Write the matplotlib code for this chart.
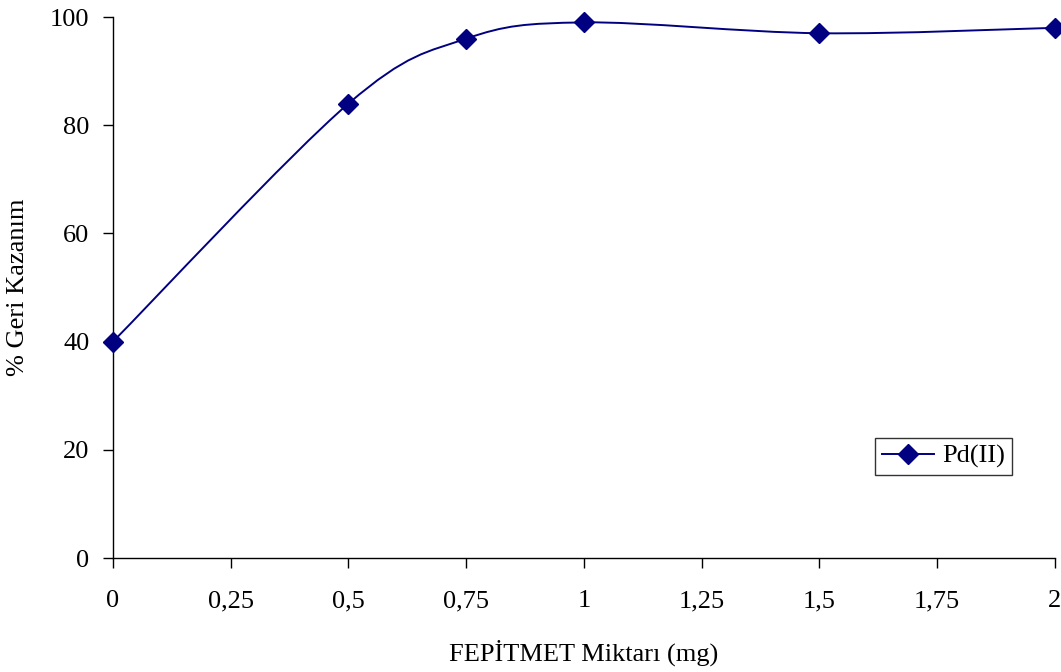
import numpy as np
import matplotlib
matplotlib.use("Agg")
import matplotlib.pyplot as plt
from matplotlib.path import Path
from matplotlib.patches import PathPatch
from matplotlib.lines import Line2D

plt.rcParams['font.family'] = ['Liberation Serif', 'DejaVu Serif']

# FEPİTMET amount (mg) and % recovery of Pd(II)
amount_mg = [0, 0.5, 0.75, 1, 1.5, 2]
recovery = [40, 84, 96, 99, 97, 98]
x_ticks = [0, 0.25, 0.5, 0.75, 1, 1.25, 1.5, 1.75, 2]
x_tick_labels = ["0", "0,25", "0,5", "0,75", "1", "1,25", "1,5", "1,75", "2"]
y_ticks = [0, 20, 40, 60, 80, 100]

color = "#000080"
fs = 19

fig = plt.figure(figsize=(10.61, 6.72), dpi=100)
ax = fig.add_axes([0.1065, 0.1696, 0.8878, 0.8051])

# Smoothed line: cubic Bezier segments through the data points
pts = np.column_stack([amount_mg, recovery]).astype(float)
n = len(pts)
verts = [pts[0]]
codes = [Path.MOVETO]
for i in range(n - 1):
    p0 = pts[i - 1] if i > 0 else pts[i]
    p1 = pts[i]
    p2 = pts[i + 1]
    p3 = pts[i + 2] if i + 2 < n else pts[i + 1]
    c1 = p1 + (p2 - p0) / 6.0
    c2 = p2 - (p3 - p1) / 6.0
    verts += [c1, c2, p2]
    codes += [Path.CURVE4] * 3
ax.add_patch(PathPatch(Path(verts, codes), facecolor="none", edgecolor=color,
                       lw=1.4, clip_on=False, zorder=2))
ax.plot(amount_mg, recovery, linestyle="none", marker="D", markersize=10,
        color=color, clip_on=False, zorder=3)

ax.set_xlim(0, 2)
ax.set_ylim(0, 100)
ax.set_xticks(x_ticks)
ax.set_xticklabels(x_tick_labels)
ax.set_yticks(y_ticks)
for s in ["top", "right"]:
    ax.spines[s].set_visible(False)
for s in ["left", "bottom"]:
    ax.spines[s].set_linewidth(1.0)
ax.tick_params(axis="both", direction="out", length=7, width=1.0,
               labelsize=fs, colors="black")
ax.tick_params(axis="x", pad=16)
ax.tick_params(axis="y", pad=10)

ax.set_xlabel("FEPİTMET Miktarı (mg)", fontsize=fs, labelpad=20)
ax.set_ylabel("% Geri Kazanım", fontsize=fs)
ax.yaxis.set_label_coords(-0.089, 0.5)

handle = Line2D([], [], color=color, lw=1.4, marker="D", markersize=10)
leg = ax.legend([handle], ["Pd(II)"], loc="upper left",
                bbox_to_anchor=(0.8089, 0.222), fontsize=fs, frameon=True,
                fancybox=False, edgecolor="black", handlelength=2.0,
                borderpad=0.25, handletextpad=0.3, borderaxespad=0)
leg.get_frame().set_linewidth(1.0)

fig.savefig("out.png", dpi=100)
